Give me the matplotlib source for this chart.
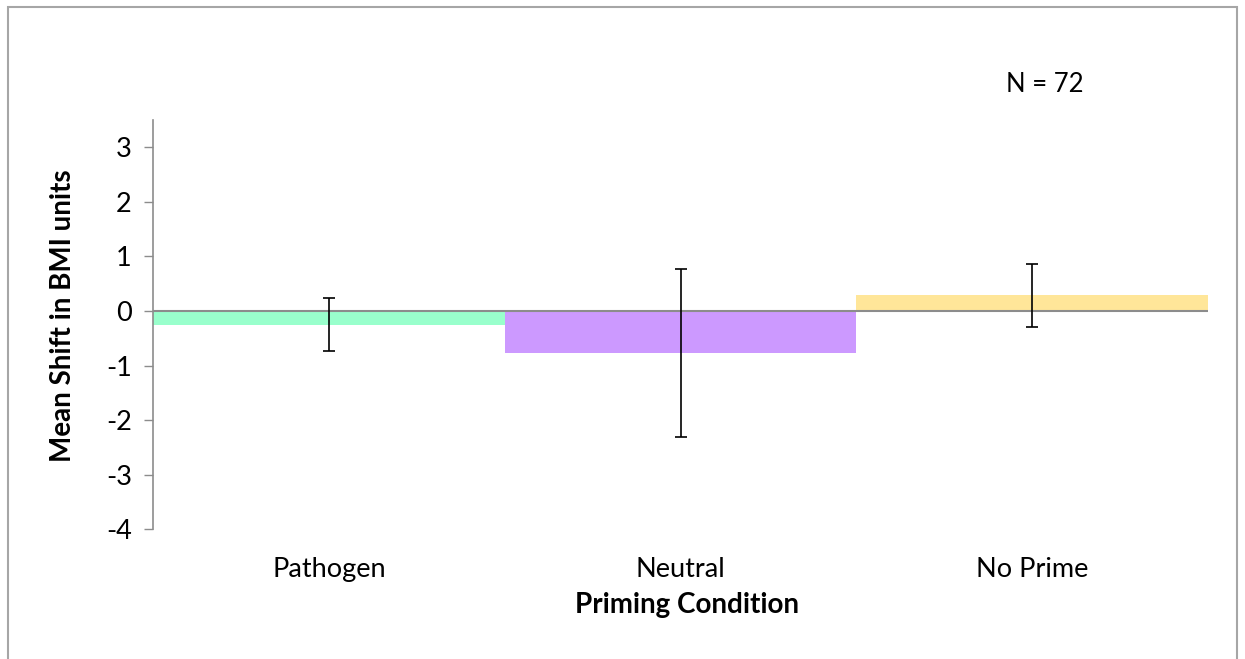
import matplotlib.pyplot as plt
from matplotlib.patches import Rectangle

plt.rcParams['font.family'] = ['Lato', 'DejaVu Sans']

# data
conditions = ['Pathogen', 'Neutral', 'No Prime']
mean_shift = [-0.25, -0.77, 0.29]
error = [0.49, 1.54, 0.58]
bar_colors = ['#99FFCC', '#CC99FF', '#FFE699']
y_ticks = [-4, -3, -2, -1, 0, 1, 2, 3]

fig = plt.figure(figsize=(12.45, 6.59), dpi=100)
ax = fig.add_axes([0.1232, 0.1968, 0.8469, 0.6211])

x = list(range(len(conditions)))
ax.bar(x, mean_shift, width=1.0, color=bar_colors, zorder=2)
ax.axhline(0, color='#8c8c8c', linewidth=1.5, zorder=2.5)
ax.errorbar(x, mean_shift, yerr=error, fmt='none', ecolor='black',
            elinewidth=1.2, capsize=4.6, capthick=1.2, zorder=3)

ax.set_xlim(-0.5, 2.5)
ax.set_ylim(-4, 3.5)
ax.set_yticks(y_ticks)
ax.set_yticklabels([str(t) for t in y_ticks], fontsize=19.5)
ax.tick_params(axis='y', direction='out', length=6.5, width=1, color='#8c8c8c', pad=9)

ax.set_xticks(x)
ax.set_xticklabels(conditions, fontsize=19.5)
ax.tick_params(axis='x', length=0, pad=20)

for side in ['top', 'right', 'bottom']:
    ax.spines[side].set_visible(False)
ax.spines['left'].set_color('#8c8c8c')
ax.spines['left'].set_linewidth(1.2)

# axis titles placed where the original has them (not exactly centred)
fig.text(687 / 1245, 1 - 613 / 659, 'Priming Condition', fontsize=20,
         fontweight='bold', ha='center', va='baseline')
fig.text(63 / 1245, 1 - 316 / 659, 'Mean Shift in BMI units', fontsize=20,
         fontweight='bold', rotation=90, ha='center', va='center')

fig.text(1045 / 1245, 1 - 84 / 659, 'N = 72', fontsize=18.5, ha='center', va='center')

# chart frame
fig.patches.append(Rectangle((8 / 1245, -0.1), 1229 / 1245, 1 - 6.5 / 659 + 0.1,
                             transform=fig.transFigure, fill=False,
                             edgecolor='#a6a6a6', linewidth=1.5))

fig.savefig('out.png', dpi=100)
